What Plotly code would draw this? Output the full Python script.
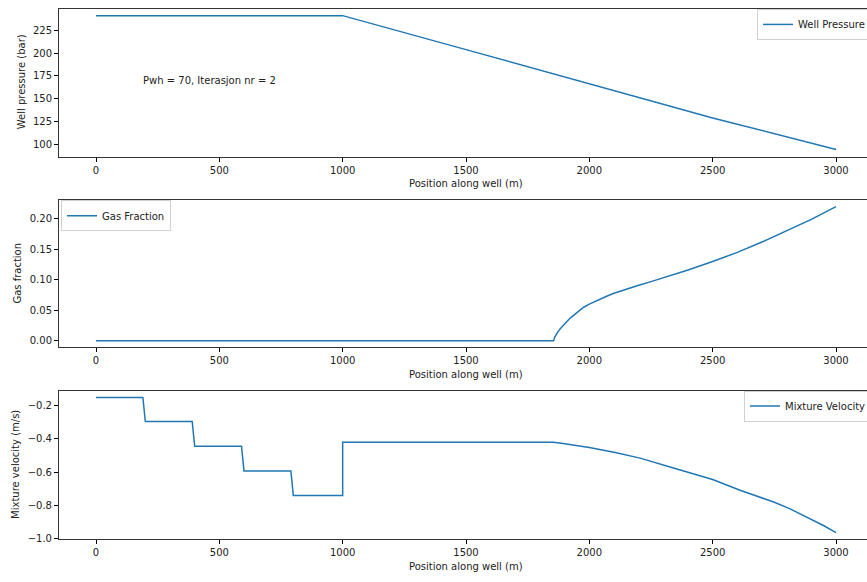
import plotly.graph_objects as go

# ---- data ----
pressure_x = [0, 1000, 1500, 1855, 2000, 2500, 3000]
pressure_y = [241.0, 241.0, 203.8, 177.0, 166.0, 129.0, 94.5]

gas_x = [0, 1855, 1860, 1865, 1873, 1883, 1895, 1910, 1925, 1945, 1960, 1977, 2000, 2020,
         2045, 2070, 2100, 2150, 2200, 2250, 2300, 2400, 2500, 2600, 2700, 2800, 2900, 3000]
gas_y = [0.0, 0.0, 0.006, 0.010, 0.015, 0.020, 0.026, 0.032, 0.038, 0.045, 0.050, 0.055,
         0.060, 0.064, 0.069, 0.073, 0.078, 0.085, 0.091, 0.097, 0.103, 0.116, 0.130,
         0.145, 0.162, 0.180, 0.199, 0.220]

vel_x = [0, 190, 200, 390, 400, 590, 600, 790, 800, 1000, 1000, 1855, 1900, 2000, 2100,
         2206, 2341, 2500, 2611, 2750, 2814, 2880, 2949, 3000]
vel_y = [-0.150, -0.150, -0.295, -0.295, -0.443, -0.443, -0.592, -0.592, -0.739,
         -0.739, -0.419, -0.419, -0.428, -0.451, -0.480, -0.515, -0.574, -0.644,
         -0.708, -0.780, -0.820, -0.867, -0.920, -0.963]

x_ticks = [0, 500, 1000, 1500, 2000, 2500, 3000]
p_ticks = [100, 125, 150, 175, 200, 225]
g_ticks = [0.00, 0.05, 0.10, 0.15, 0.20]
v_ticks = [-1.0, -0.8, -0.6, -0.4, -0.2]

# the original figure is wider than the visible window; its right part is clipped
W, H = 885, 577
BLUE = "#1f77b4"
FONT = "DejaVu Sans"
TXT = "#222222"


def px(xp):
    return xp / W


def py(yp):
    return 1 - yp / H


def ydom(top_px, bot_px):
    return [py(bot_px), py(top_px)]


fig = go.Figure()
fig.add_trace(go.Scatter(x=pressure_x, y=pressure_y, mode="lines", name="Well Pressure",
                         line=dict(color=BLUE, width=1.5), xaxis="x", yaxis="y",
                         legend="legend"))
fig.add_trace(go.Scatter(x=gas_x, y=gas_y, mode="lines", name="Gas Fraction",
                         line=dict(color=BLUE, width=1.5),
                         xaxis="x2", yaxis="y2", legend="legend2"))
fig.add_trace(go.Scatter(x=vel_x, y=vel_y, mode="lines", name="Mixture Velocity",
                         line=dict(color=BLUE, width=1.5), xaxis="x3", yaxis="y3",
                         legend="legend3"))

xdom = [px(59), px(873)]
common_x = dict(domain=xdom, range=[-150, 3150], tickvals=x_ticks, ticks="outside",
                ticklen=4, tickwidth=0.8, tickcolor="#000", showline=True, linecolor="#333",
                linewidth=1, mirror=True, showgrid=False, zeroline=False,
                tickfont=dict(family=FONT, size=10, color=TXT))
common_y = dict(ticks="outside", ticklen=4, tickwidth=0.8, tickcolor="#000", showline=True,
                linecolor="#333", linewidth=1, showgrid=False, zeroline=False,
                tickfont=dict(family=FONT, size=10, color=TXT))

legend_common = dict(bgcolor="rgba(255,255,255,0.8)", bordercolor="#d0d0d0", borderwidth=1,
                     font=dict(family=FONT, size=10, color=TXT), xref="paper", yref="paper",
                     tracegroupgap=0)

fig.update_layout(
    width=W, height=H, margin=dict(l=0, r=0, t=0, b=0),
    paper_bgcolor="white", plot_bgcolor="white", showlegend=True, hovermode=False,
    xaxis=dict(**common_x, anchor="y"),
    yaxis=dict(**common_y, domain=ydom(9, 158), range=[86.65, 248.35], tickvals=p_ticks,
               anchor="x"),
    xaxis2=dict(**common_x, anchor="y2"),
    yaxis2=dict(**common_y, domain=ydom(202, 350.5), range=[-0.011, 0.2305], tickvals=g_ticks,
                tickformat=".2f", anchor="x2"),
    xaxis3=dict(**common_x, anchor="y3"),
    yaxis3=dict(**common_y, domain=ydom(394, 544), range=[-1.003, -0.109], tickvals=v_ticks,
                tickformat=".1f", anchor="x3"),
    legend=dict(**legend_common, x=px(757), y=py(9), xanchor="left", yanchor="top"),
    legend2=dict(**legend_common, x=px(61), y=py(202), xanchor="left", yanchor="top"),
    legend3=dict(**legend_common, x=px(744), y=py(394), xanchor="left", yanchor="top"),
)

ann_font = dict(family=FONT, size=10, color=TXT)
annotations = [
    dict(text="Pwh = 70, Iterasjon nr = 2", x=182, y=170.5, xref="x", yref="y",
         xanchor="left", yanchor="middle", showarrow=False, font=ann_font),
]
for ypx in (185, 378, 571):
    annotations.append(dict(text="Position along well (m)", x=px(466), y=py(ypx),
                            xref="paper", yref="paper", xanchor="center", yanchor="middle",
                            showarrow=False, font=ann_font))
for label, xpx, ypx in (("Well pressure (bar)", 21, 83), ("Gas fraction", 18, 276),
                        ("Mixture velocity (m/s)", 16, 469)):
    annotations.append(dict(text=label, x=px(xpx), y=py(ypx), xref="paper",
                            yref="paper", xanchor="center", yanchor="middle",
                            textangle=-90, showarrow=False, font=ann_font))
fig.update_layout(annotations=annotations)

fig.write_html("out.html", config={"displayModeBar": False},
               post_script=("document.body.style.margin='0';"
                            "document.body.style.overflow='hidden';"
                            "document.documentElement.style.overflow='hidden';"))
